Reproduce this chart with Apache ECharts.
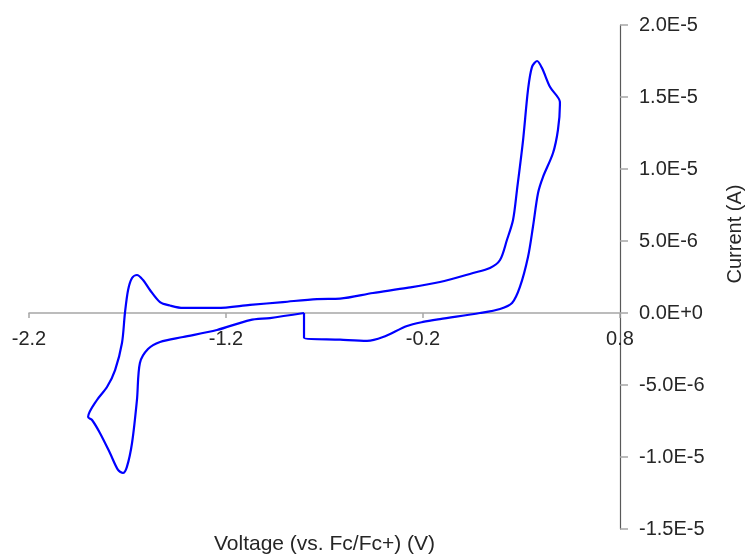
<!DOCTYPE html>
<html>
<head>
<meta charset="utf-8">
<script src="https://cdn.jsdelivr.net/npm/echarts@6/dist/echarts.min.js"></script>
<style>
html,body{margin:0;padding:0;background:#fff;}
#chart{width:751px;height:557px;}
</style>
</head>
<body>
<div id="chart"></div>
<script>
// Voltage (V vs Fc/Fc+) in scan order (loop closes with the step at -0.804 V)
var voltage = [
  -0.804, -0.977, -1.078, -1.246, -1.418, -1.535, -1.596, -1.637, -1.652, -1.677, -1.703, -1.723, -1.748, -1.789, -1.840, -1.880, -1.900,
  -1.855, -1.804, -1.763, -1.728, -1.713, -1.697, -1.677, -1.652, -1.621, -1.586, -1.535, -1.484, -1.418, -1.246, -1.078, -0.911, -0.738, -0.621, -0.454, -0.281, -0.114, 0.054, 0.140, 0.191, 0.226, 0.257, 0.277, 0.308, 0.333, 0.353, 0.379, 0.404, 0.445, 0.495,
  0.495, 0.485, 0.460, 0.409, 0.384, 0.358, 0.333, 0.292, 0.252, 0.191, 0.089, -0.114, -0.200, -0.281, -0.403, -0.484, -0.621, -0.804, -0.804
];
// Current in microamperes (same order)
var currentMicroA = [
  0.0, -0.35, -0.49, -1.18, -1.67, -2.01, -2.50, -3.47, -6.04, -9.03, -10.69, -11.11, -10.90, -9.72, -8.33, -7.43, -7.22,
  -6.04, -5.14, -3.96, -2.08, 0.0, 1.60, 2.43, 2.64, 2.29, 1.60, 0.76, 0.52, 0.35, 0.35, 0.56, 0.76, 0.97, 1.00, 1.39, 1.74, 2.15, 2.78, 3.13, 3.68, 5.07, 6.46, 8.54, 12.01, 15.49, 17.08, 17.50, 17.01, 15.69, 14.65,
  14.44, 12.71, 11.11, 9.44, 8.33, 5.97, 3.89, 1.81, 0.69, 0.28, 0.0, -0.42, -0.62, -0.90, -1.67, -1.94, -1.85, -1.72, 0.0
];
var xTicks = [-2.2, -1.2, -0.2, 0.8];
var yTicks = [-1.5e-5, -1.0e-5, -5e-6, 0, 5e-6, 1.0e-5, 1.5e-5, 2.0e-5];
var xTitle = 'Voltage (vs. Fc/Fc+) (V)';
var yTitle = 'Current (A)';

function sci(v) {
  if (Math.abs(v) < 1e-20) return '0.0E+0';
  var e = Math.floor(Math.log10(Math.abs(v)) + 1e-9);
  var m = v / Math.pow(10, e);
  return m.toFixed(1) + 'E' + (e < 0 ? '-' : '+') + Math.abs(e);
}

var data = voltage.map(function (v, i) { return [v, currentMicroA[i] * 1e-6]; });
var FONT = 'Liberation Sans, Arial, sans-serif';
var TXT = '#262626';

var W = 751, H = 557;
var G = {left: 29, right: 131, top: 25, bottom: 28};
var yMin = yTicks[0], yMax = yTicks[yTicks.length - 1];
var gridH = H - G.top - G.bottom;
// move the x axis (line, ticks, labels, title) up to the y = 0 level
var xOffset = -gridH * (0 - yMin) / (yMax - yMin);

var chart = echarts.init(document.getElementById('chart'), null, {renderer: 'canvas'});
chart.setOption({
  animation: false,
  backgroundColor: '#ffffff',
  grid: {left: G.left, right: G.right, top: G.top, bottom: G.bottom, containLabel: false, outerBoundsMode: 'none'},
  xAxis: {
    type: 'value',
    position: 'bottom',
    offset: xOffset,
    min: -2.2, max: 0.8,
    name: xTitle,
    nameLocation: 'middle',
    nameGap: 221,
    nameTextStyle: {fontFamily: FONT, fontSize: 21, color: TXT},
    axisLine: {onZero: false, lineStyle: {color: '#a6a6a6', width: 1.5}},
    axisTick: {show: true, length: 5, customValues: xTicks, lineStyle: {color: '#a6a6a6', width: 1.5}},
    axisLabel: {customValues: xTicks, margin: 16, fontFamily: FONT, fontSize: 20, color: TXT,
      formatter: function (v) { return v.toFixed(1); }},
    splitLine: {show: false}
  },
  yAxis: {
    type: 'value',
    position: 'right',
    min: yMin, max: yMax,
    axisLine: {show: true, onZero: false, lineStyle: {color: '#595959', width: 1.2}},
    axisTick: {show: true, length: 8, customValues: yTicks, lineStyle: {color: '#a6a6a6', width: 1.5}},
    axisLabel: {customValues: yTicks, margin: 19, fontFamily: FONT, fontSize: 20, color: TXT, formatter: sci},
    splitLine: {show: false}
  },
  graphic: [{
    type: 'text',
    x: 735, y: 234,
    rotation: Math.PI / 2,
    style: {text: yTitle, fontFamily: FONT, fontSize: 20, fill: TXT, align: 'center', verticalAlign: 'middle'}
  }],
  series: [{
    type: 'line',
    data: data,
    showSymbol: false,
    smooth: 0.3,
    lineStyle: {color: '#0000ff', width: 2.2},
    z: 3
  }]
});
</script>
</body>
</html>
